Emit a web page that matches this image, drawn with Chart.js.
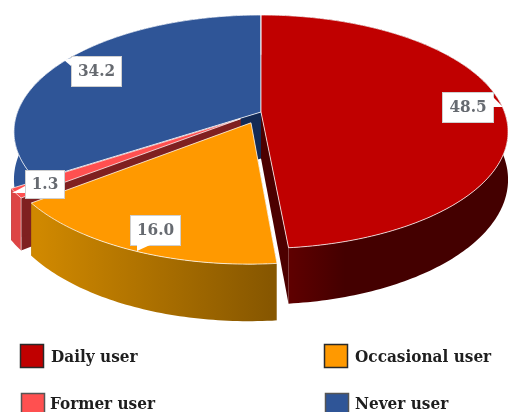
<!DOCTYPE html>
<html><head><meta charset="utf-8">
<style>html,body{margin:0;padding:0;background:#fff}#w{width:508px;height:412px;position:relative}</style>
<script src="https://cdn.jsdelivr.net/npm/chart.js@4"></script>
</head><body><div id="w"><canvas id="c" width="508" height="412"></canvas></div>
<script>
const categories = ['Daily user', 'Occasional user', 'Former user', 'Never user'];
const values = [48.5, 16.0, 1.3, 34.2];
const explodeOffsets = [0, 20, 20, 0];
const topColors = ['#c00000', '#ff9900', '#ff5050', '#2f5597'];

const styleBySlice = [
  {inner:'#4c0000', wallA:'#5f0000', wallB:'#440000', wallX:[289,345]},
  {inner:'#a86a00', wallA:'#cf8800', wallB:'#875700', wallX:[40,270]},
  {inner:'#7f2020', wallA:'#dd4545', wallB:'#dd4545', wallX:[0,30]},
  {inner:'#132a55', wallA:'#2f5597', wallB:'#2f5597', wallX:[0,30]}
];
const drawOrder = [3, 2, 0, 1];
const view = {cx:261, cy:112, K:243.5, A:113.4, D:46.5, p:0.169};
const labelBoxes = [
  {x:442.5, y:92.5, w:51, h:30, tip:[503,107], base:[[493,97],[493,107]]},
  {x:130.5, y:215.5, w:50, h:30, tip:[137,251], base:[[137,245],[150,245]]},
  {x:25.5, y:170.5, w:39, h:28, tip:[12,193], base:[[25,186],[25,193]]},
  {x:71.5, y:56.5, w:50, h:30, tip:[64,60], base:[[71,66],[78,56]]}
];
const legendCells = [
  {x:20.5, y:344.5, tx:51, ty:362, border:'#2a2a2a'},
  {x:324.5, y:344.5, tx:355, ty:362, border:'#2a2a2a'},
  {x:21.5, y:393.5, tx:50, ty:409, border:'#555'},
  {x:325.5, y:393.5, tx:355, ty:409, border:'#555'}
];
const SERIF = "'DejaVu Serif'";

function proj(u, v, z) {
  const w = 1 - view.p * v;
  return [view.cx + view.K * u / w, view.cy + (view.A * v + view.D * z) / w];
}
function poly(ctx, pts) {
  ctx.beginPath();
  pts.forEach((q, i) => i ? ctx.lineTo(q[0], q[1]) : ctx.moveTo(q[0], q[1]));
  ctx.closePath();
}
const pie3d = {
  id: 'pie3d',
  beforeDatasetDraw(chart) {
    const ctx = chart.ctx, arcs = chart.getDatasetMeta(0).data;
    drawOrder.forEach(i => {
      const a = arcs[i], s = a.startAngle, e = a.endAngle, st = styleBySlice[i];
      const mid = (s + e) / 2, ex = explodeOffsets[i] / a.outerRadius;
      const ox = Math.cos(mid) * ex, oy = Math.sin(mid) * ex;
      const n = Math.max(4, Math.ceil((e - s) * 60));
      const rim = z => { const r = []; for (let k = 0; k <= n; k++) { const t = s + (e - s) * k / n; r.push(proj(ox + Math.cos(t), oy + Math.sin(t), z)); } return r; };
      const top = rim(0), bot = rim(1);
      const at = proj(ox, oy, 0), ab = proj(ox, oy, 1);
      ctx.save();
      ctx.fillStyle = st.inner;
      poly(ctx, [at, top[0], bot[0], ab]); ctx.fill();
      poly(ctx, [at, top[n], bot[n], ab]); ctx.fill();
      const g = ctx.createLinearGradient(st.wallX[0], 0, st.wallX[1], 0);
      g.addColorStop(0, st.wallA); g.addColorStop(1, st.wallB);
      ctx.fillStyle = g;
      poly(ctx, top.concat(bot.slice().reverse())); ctx.fill();
      ctx.fillStyle = a.options.backgroundColor;
      poly(ctx, [at].concat(top)); ctx.fill();
      ctx.strokeStyle = 'rgba(255,255,255,0.75)'; ctx.lineWidth = 1;
      poly(ctx, [at].concat(top)); ctx.stroke();
      ctx.strokeStyle = 'rgba(255,255,255,0.55)';
      ctx.beginPath(); ctx.moveTo(top[0][0], top[0][1]); ctx.lineTo(bot[0][0], bot[0][1]); ctx.stroke();
      ctx.restore();
    });
    return false;
  },
  afterDraw(chart) {
    const ctx = chart.ctx;
    const vals = chart.data.datasets[0].data;
    labelBoxes.forEach((b, i) => {
      ctx.save();
      ctx.fillStyle = '#fff'; ctx.strokeStyle = '#cfcfcf'; ctx.lineWidth = 1;
      ctx.fillRect(b.x, b.y, b.w, b.h); ctx.strokeRect(b.x, b.y, b.w, b.h);
      poly(ctx, [b.base[0], b.tip, b.base[1]]); ctx.fill();
      ctx.font = "bold condensed 17px " + SERIF;
      ctx.textAlign = 'center'; ctx.textBaseline = 'middle';
      ctx.fillStyle = '#666a70';
      ctx.fillText(vals[i].toFixed(1), b.x + b.w / 2, b.y + b.h / 2 + 0.5);
      ctx.restore();
    });
    chart.data.labels.forEach((t, i) => {
      const c = legendCells[i];
      ctx.save();
      ctx.fillStyle = topColors[i]; ctx.fillRect(c.x, c.y, 23, 23);
      ctx.strokeStyle = c.border; ctx.lineWidth = 1.5; ctx.strokeRect(c.x, c.y, 23, 23);
      ctx.fillStyle = '#1e1e1e'; ctx.font = "bold condensed 17px " + SERIF;
      ctx.textAlign = 'left'; ctx.textBaseline = 'alphabetic';
      ctx.fillText(t, c.tx, c.ty);
      ctx.restore();
    });
  }
};
new Chart(document.getElementById('c'), {
  type: 'pie',
  data: {labels: categories, datasets: [{data: values, backgroundColor: topColors, offset: explodeOffsets, borderWidth: 0}]},
  options: {
    responsive: false, animation: false,
    layout: {padding: 0},
    plugins: {legend: {display: false}, tooltip: {enabled: false}}
  },
  plugins: [pie3d]
});
</script></body></html>
